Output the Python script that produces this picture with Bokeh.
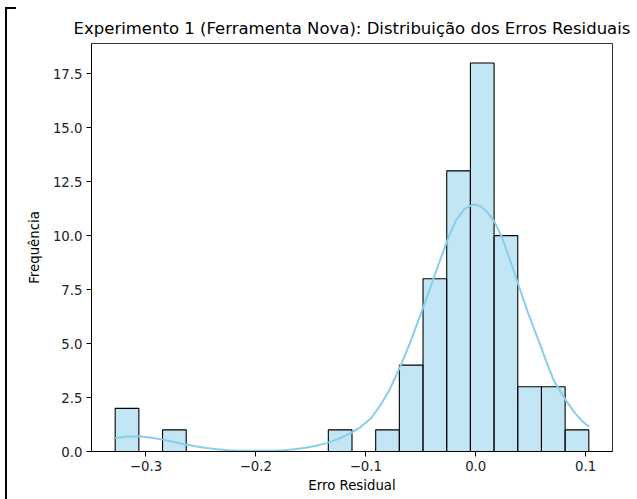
from bokeh.plotting import figure
from bokeh.models import FixedTicker, ColumnDataSource, Range1d
from bokeh.embed import file_html
from bokeh.resources import INLINE

# Histogram data (20 bins)
bin_start = -0.328
bin_end = 0.1029
n_bins = 20
counts = [2, 0, 1, 0, 0, 0, 0, 0, 0, 1, 0, 1, 4, 8, 13, 18, 10, 3, 3, 1]

# KDE curve
kde_x = [-0.328, -0.320, -0.313, -0.305, -0.295, -0.285, -0.275, -0.265, -0.255,
         -0.245, -0.235, -0.225, -0.215, -0.205, -0.195, -0.185, -0.175, -0.165,
         -0.155, -0.145, -0.135, -0.125, -0.115, -0.105, -0.095, -0.086, -0.078,
         -0.069, -0.060, -0.052, -0.044, -0.035, -0.025, -0.018, -0.010, -0.002,
         0.005, 0.012, 0.017, 0.024, 0.031, 0.039, 0.047, 0.056, 0.064, 0.071,
         0.078, 0.083, 0.090, 0.097, 0.103]
kde_y = [0.62, 0.68, 0.70, 0.69, 0.64, 0.55, 0.45, 0.34, 0.24,
         0.16, 0.10, 0.06, 0.04, 0.03, 0.03, 0.04, 0.06, 0.10,
         0.17, 0.27, 0.40, 0.58, 0.82, 1.12, 1.55, 2.2, 2.9,
         3.9, 5.0, 6.1, 7.2, 8.5, 9.9, 10.7, 11.25, 11.45,
         11.35, 11.0, 10.65, 9.9, 8.9, 7.7, 6.5, 5.3, 4.2, 3.3,
         2.7, 2.3, 1.8, 1.4, 1.15]

x_ticks = [-0.3, -0.2, -0.1, 0.0, 0.1]
x_tick_labels = ["\u22120.3", "\u22120.2", "\u22120.1", "0.0", "0.1"]
y_ticks = [0.0, 2.5, 5.0, 7.5, 10.0, 12.5, 15.0, 17.5]
y_tick_labels = ["0.0", "2.5", "5.0", "7.5", "10.0", "12.5", "15.0", "17.5"]

title = "Experimento 1 (Ferramenta Nova): Distribuição dos Erros Residuais"
x_label = "Erro Residual"
y_label = "Frequência"

w = (bin_end - bin_start) / n_bins
lefts = [bin_start + i * w for i in range(n_bins)]
rights = [bin_start + (i + 1) * w for i in range(n_bins)]
keep = [i for i, c in enumerate(counts) if c > 0]
src = ColumnDataSource(dict(left=[lefts[i] for i in keep], right=[rights[i] for i in keep],
                            top=[counts[i] for i in keep], bottom=[0] * len(keep)))

span = bin_end - bin_start
ymax = max(counts) * 1.05

p = figure(width=637, height=499, output_backend="svg", toolbar_location=None,
           x_range=Range1d(bin_start - 0.05 * span, bin_end + 0.05 * span),
           y_range=Range1d(0, ymax),
           min_border_left=91, min_border_right=25, min_border_top=43, min_border_bottom=48,
           border_fill_color=None, background_fill_color="white")

# page edge lines of the original screenshot, drawn as CSS background
p.styles = {"background": "linear-gradient(black, black) 5px 7px / 2px 492px no-repeat, "
                          "linear-gradient(black, black) 5px 7px / 11px 2px no-repeat, white"}

FONT = "DejaVu Sans"
p.title.text = title
p.title.align = "center"
p.title.text_font = FONT
p.title.text_font_size = "16.5px"
p.title.text_font_style = "normal"
p.title.text_color = "black"
p.title.standoff = 12

p.quad(left="left", right="right", top="top", bottom="bottom", source=src,
       fill_color="#87CEEB", fill_alpha=0.5, line_color="black", line_width=1.1)
p.line(kde_x, kde_y, line_color="#87CEEB", line_width=2)

p.xgrid.visible = False
p.ygrid.visible = False
p.outline_line_color = "black"
p.outline_line_width = 1
p.outline_line_alpha = 0.8

for ax, ticks, labels, lab in ((p.xaxis[0], x_ticks, x_tick_labels, x_label),
                               (p.yaxis[0], y_ticks, y_tick_labels, y_label)):
    ax.ticker = FixedTicker(ticks=ticks)
    ax.major_label_overrides = {t: l for t, l in zip(ticks, labels)}
    ax.minor_tick_line_color = None
    ax.major_tick_in = 0
    ax.major_tick_out = 5
    ax.major_tick_line_color = "black"
    ax.axis_line_color = "black"
    ax.major_label_text_font = FONT
    ax.major_label_text_font_size = "13.3px"
    ax.major_label_text_color = "#222222"
    ax.axis_label = lab
    ax.axis_label_text_font = FONT
    ax.axis_label_text_font_size = "13.3px"
    ax.axis_label_text_font_style = "normal"
    ax.axis_label_text_color = "black"
p.xaxis[0].axis_label_standoff = 4
p.yaxis[0].axis_label_standoff = 8
p.yaxis[0].major_label_standoff = 4
p.xaxis[0].major_label_standoff = 4

open("out.html", "w").write(file_html(p, INLINE))
